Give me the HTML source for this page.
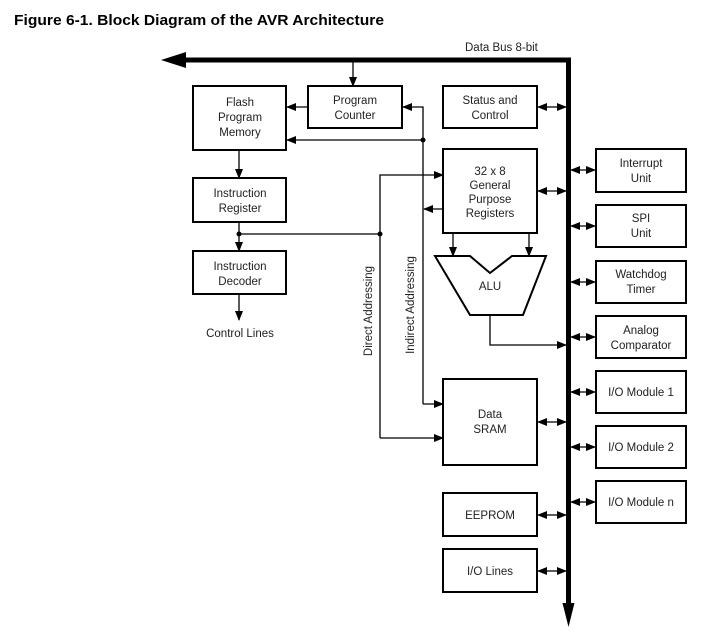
<!DOCTYPE html>
<html><head><style>
body{margin:0;background:#fff;}
svg{display:block;}
text{font-family:"Liberation Sans",sans-serif;font-size:11.5px;fill:#222;}
.t{font-weight:bold;font-size:15px;fill:#000;}
</style></head><body>
<svg width="707" height="632" viewBox="0 0 707 632" xmlns="http://www.w3.org/2000/svg">
<defs>
<marker id="a" markerWidth="10" markerHeight="8" refX="9" refY="4" orient="auto" markerUnits="userSpaceOnUse"><path d="M0,0 L10,4 L0,8 z" fill="#000"/></marker>
<marker id="b" markerWidth="10" markerHeight="8" refX="1" refY="4" orient="auto" markerUnits="userSpaceOnUse"><path d="M10,0 L0,4 L10,8 z" fill="#000"/></marker>
</defs>
<text class="t" x="14" y="25" textLength="370" lengthAdjust="spacingAndGlyphs">Figure 6-1.    Block Diagram of the AVR Architecture</text>
<text x="465" y="51">Data Bus 8-bit</text>
<line x1="183" y1="60" x2="571" y2="60" stroke="#000" stroke-width="5"/>
<path d="M161,60 L186,52 L186,68 z" fill="#000"/>
<line x1="568.5" y1="58" x2="568.5" y2="605" stroke="#000" stroke-width="5"/>
<path d="M568.5,627 L562.5,603 L574.5,603 z" fill="#000"/>
<g fill="none" stroke="#000" stroke-width="2">
<rect x="193" y="86" width="93" height="64"/>
<rect x="308" y="86" width="94" height="42"/>
<rect x="193" y="178" width="93" height="44"/>
<rect x="193" y="251" width="93" height="43"/>
<rect x="443" y="86" width="94" height="42"/>
<rect x="443" y="149" width="94" height="84"/>
<rect x="443" y="379" width="94" height="86"/>
<rect x="443" y="493" width="94" height="43"/>
<rect x="443" y="549" width="94" height="43"/>
<rect x="596" y="149" width="90" height="43"/>
<rect x="596" y="205" width="90" height="42"/>
<rect x="596" y="261" width="90" height="42"/>
<rect x="596" y="316" width="90" height="42"/>
<rect x="596" y="371" width="90" height="42"/>
<rect x="596" y="426" width="90" height="42"/>
<rect x="596" y="481" width="90" height="42"/>
<path d="M435,256 L470,256 L490,273 L512,256 L546,256 L523,315 L470,315 z"/>
</g>
<g stroke="#000" stroke-width="1.3" fill="none">
<line x1="353" y1="62" x2="353" y2="86" marker-end="url(#a)"/>
<line x1="308" y1="107" x2="287" y2="107" marker-end="url(#a)"/>
<polyline points="423,404 423,107 403,107" marker-end="url(#a)"/>
<line x1="423" y1="404" x2="443" y2="404" marker-end="url(#a)"/>
<line x1="423" y1="140" x2="287" y2="140" marker-end="url(#a)"/>
<line x1="443" y1="209" x2="424" y2="209" marker-end="url(#a)"/>
<polyline points="380,438 380,175 443,175" marker-end="url(#a)"/>
<line x1="380" y1="438" x2="443" y2="438" marker-end="url(#a)"/>
<line x1="239" y1="234" x2="380" y2="234"/>
<line x1="239" y1="150" x2="239" y2="178" marker-end="url(#a)"/>
<line x1="239" y1="222" x2="239" y2="251" marker-end="url(#a)"/>
<line x1="239" y1="294" x2="239" y2="320" marker-end="url(#a)"/>
<line x1="453" y1="233" x2="453" y2="256" marker-end="url(#a)"/>
<line x1="529" y1="233" x2="529" y2="256" marker-end="url(#a)"/>
<polyline points="490,315 490,345 566,345" marker-end="url(#a)"/>
<g marker-start="url(#b)" marker-end="url(#a)">
<line x1="538" y1="107" x2="566" y2="107"/>
<line x1="538" y1="191" x2="566" y2="191"/>
<line x1="538" y1="422" x2="566" y2="422"/>
<line x1="538" y1="515" x2="566" y2="515"/>
<line x1="538" y1="571" x2="566" y2="571"/>
<line x1="571" y1="170" x2="595" y2="170"/>
<line x1="571" y1="226" x2="595" y2="226"/>
<line x1="571" y1="282" x2="595" y2="282"/>
<line x1="571" y1="337" x2="595" y2="337"/>
<line x1="571" y1="392" x2="595" y2="392"/>
<line x1="571" y1="447" x2="595" y2="447"/>
<line x1="571" y1="502" x2="595" y2="502"/>
</g>
</g>
<g fill="#000"><circle cx="423" cy="140" r="2.5"/><circle cx="380" cy="234" r="2.5"/><circle cx="239" cy="234" r="2.5"/></g>
<g text-anchor="middle">
<text x="240" y="106">Flash</text><text x="240" y="121">Program</text><text x="240" y="136">Memory</text>
<text x="355" y="104">Program</text><text x="355" y="119">Counter</text>
<text x="240" y="197">Instruction</text><text x="240" y="212">Register</text>
<text x="240" y="270">Instruction</text><text x="240" y="285">Decoder</text>
<text x="240" y="337">Control Lines</text>
<text x="490" y="104">Status and</text><text x="490" y="119">Control</text>
<text x="490" y="175">32 x 8</text><text x="490" y="189">General</text><text x="490" y="203">Purpose</text><text x="490" y="217">Registers</text>
<text x="490" y="290">ALU</text>
<text x="490" y="418">Data</text><text x="490" y="433">SRAM</text>
<text x="490" y="519">EEPROM</text>
<text x="490" y="575">I/O Lines</text>
<text x="641" y="167">Interrupt</text><text x="641" y="182">Unit</text>
<text x="641" y="222">SPI</text><text x="641" y="237">Unit</text>
<text x="641" y="278">Watchdog</text><text x="641" y="293">Timer</text>
<text x="641" y="334">Analog</text><text x="641" y="349">Comparator</text>
<text x="641" y="396">I/O Module 1</text>
<text x="641" y="451">I/O Module 2</text>
<text x="641" y="506">I/O Module n</text>
<text transform="translate(372,311) rotate(-90)">Direct Addressing</text>
<text transform="translate(414,305) rotate(-90)">Indirect Addressing</text>
</g>
</svg>
</body></html>
